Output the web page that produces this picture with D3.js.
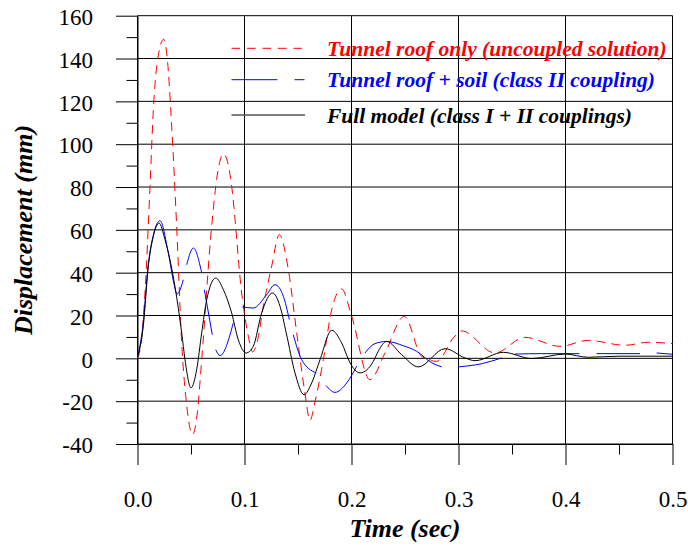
<!DOCTYPE html>
<html>
<head>
<meta charset="utf-8">
<script src="https://d3js.org/d3.v7.min.js"></script>
<style>
  body { margin: 0; background: #fff; }
  svg { display: block; }
  .tick text { font-family: "Liberation Serif", "Times New Roman", serif; }
</style>
</head>
<body>
<svg id="chart" width="688" height="546"></svg>
<script>
// ---- data: [time (s), displacement (mm)] ----
const redSeries = [
  [0, 0], [0.004, 10], [0.007, 30.5], [0.0117, 80.3], [0.0148, 116], [0.02, 143],
  [0.0245, 149], [0.028, 139], [0.032, 108], [0.0366, 61.6], [0.0413, 7.2],
  [0.046, -22], [0.0515, -35.6], [0.056, -25], [0.06, -0.6], [0.0693, 61.6],
  [0.075, 87], [0.0802, 95.4], [0.085, 90], [0.088, 80.3], [0.0974, 30.5],
  [0.1036, 10.3], [0.1075, 3], [0.112, 8], [0.1176, 24.3], [0.1254, 43],
  [0.1325, 57.8], [0.141, 41.4], [0.1488, 11.9], [0.1565, -16.2], [0.1612, -29],
  [0.166, -20], [0.1737, -0.6], [0.1815, 22.7], [0.1908, 32.4], [0.2, 20],
  [0.2173, -10], [0.2313, 2.5], [0.2494, 19.6], [0.2656, 0.9], [0.2796, -1.4],
  [0.296, 10], [0.303, 12.8], [0.334, 2.5], [0.3621, 9.8], [0.3949, 5.6],
  [0.4213, 8.4], [0.4556, 6.1], [0.4774, 7.5], [0.5, 6.9]
];

const blueSeries = [
  [0, 0.5], [0.005, 15], [0.0101, 44], [0.015, 58], [0.021, 64.3], [0.0288, 49.2],
  [0.034, 35], [0.037, 30], [0.0428, 36.7], [0.046, 43.7], [0.0522, 51.5],
  [0.06, 39.9], [0.0625, 32], [0.0699, 11], [0.0731, 4], [0.0771, 1.3],
  [0.0895, 16.5], [0.098, 24], [0.1082, 23.5], [0.1207, 29.7], [0.1285, 34.4],
  [0.1363, 29], [0.1419, 18.1], [0.1456, 11], [0.1534, -0.6], [0.1668, -6.8],
  [0.1762, -12.7], [0.1846, -15.9], [0.1955, -11.5], [0.2049, -3.7], [0.2126, 2.5],
  [0.222, 6.9], [0.2329, 7.9], [0.2484, 5.9], [0.2609, 3.3], [0.275, -2.1],
  [0.2843, -4], [0.2998, -4], [0.3217, -2.5], [0.3404, 0.2], [0.3528, 2],
  [0.3777, 2.2], [0.413, 2.2], [0.4291, 2.2], [0.4696, 2.2], [0.4852, 2.5], [0.5, 1.9]
];
// the blue line breaks right after these times
const blueBreaks = [0.0428, 0.06, 0.0699, 0.0895, 0.1419, 0.1668, 0.2049, 0.2843, 0.3404, 0.413, 0.4696];

const blackSeries = [
  [0, 0.5], [0.0054, 15], [0.0101, 43], [0.0148, 57], [0.0201, 63.2], [0.0257, 55.4],
  [0.035, 33.6], [0.0413, 11.9], [0.0444, -0.6], [0.05, -13.8], [0.0553, -5.3],
  [0.06, 11.9], [0.0647, 27.4], [0.0731, 37.5], [0.0802, 32.1], [0.088, 21.2],
  [0.0942, 8.7], [0.1015, 2.5], [0.1082, 5.6], [0.116, 21.2], [0.1263, 30.5],
  [0.1332, 24.3], [0.139, 11.9], [0.1472, -6.8], [0.1556, -17], [0.1628, -11.5],
  [0.1706, -0.6], [0.1815, 13.1], [0.1908, 7.2], [0.1986, -2.1], [0.208, -6.8],
  [0.2204, -1.4], [0.225, 3.3], [0.2329, 7.9], [0.2469, 1.7], [0.2624, -4],
  [0.2874, 4.5], [0.306, 0.2], [0.3154, -1.1], [0.3419, 2.8], [0.3684, -0.1],
  [0.3995, 2], [0.4213, 0.5], [0.45, 1], [0.5, 1]
];

const xTicks = [0, 0.1, 0.2, 0.3, 0.4, 0.5];
const xMinorTicks = [0.05, 0.15, 0.25, 0.35, 0.45];
const yTicks = [-40, -20, 0, 20, 40, 60, 80, 100, 120, 140, 160];
const yMinorTicks = [-30, -10, 10, 30, 50, 70, 90, 110, 130, 150];

const legendLabels = [
  "Tunnel roof only (uncoupled solution)",
  "Tunnel roof + soil (class II coupling)",
  "Full model (class I + II couplings)"
];
const legendY = [48.3, 79.7, 115];

const svg = d3.select("#chart");

const x = d3.scaleLinear().domain([0, 0.5]).range([137.5, 672.5]);
const y = d3.scaleLinear().domain([-40, 160]).range([444, 15.7]);

const serif = "Liberation Serif, Times New Roman, serif";

// grid
const grid = svg.append("g").attr("stroke", "#000").attr("stroke-width", 1);
grid.selectAll("line.h").data(yTicks).join("line")
  .attr("class", "h")
  .attr("x1", x(0)).attr("x2", x(0.5))
  .attr("y1", d => y(d)).attr("y2", d => y(d));
grid.selectAll("line.v").data(xTicks).join("line")
  .attr("class", "v")
  .attr("x1", d => x(d)).attr("x2", d => x(d))
  .attr("y1", y(160)).attr("y2", y(-40));

// y axis (plain hyphen for negatives, as in the original)
const yAxis = svg.append("g")
  .attr("transform", `translate(${x(0)},0)`)
  .call(d3.axisLeft(y).tickValues(yTicks).tickFormat(d => String(d))
    .tickSizeInner(21.5).tickSizeOuter(0).tickPadding(23));
svg.append("g")
  .attr("transform", `translate(${x(0)},0)`)
  .call(d3.axisLeft(y).tickValues(yMinorTicks).tickSize(11).tickFormat(""))
  .call(g => g.select(".domain").remove());

// x axis
const xAxis = svg.append("g")
  .attr("transform", `translate(0,${y(-40)})`)
  .call(d3.axisBottom(x).tickValues(xTicks).tickFormat(d3.format(".1f"))
    .tickSizeInner(21).tickSizeOuter(0).tickPadding(26));
svg.append("g")
  .attr("transform", `translate(0,${y(-40)})`)
  .call(d3.axisBottom(x).tickValues(xMinorTicks).tickSize(10.5).tickFormat(""))
  .call(g => g.select(".domain").remove());

svg.selectAll("g[font-family]").attr("font-family", serif).attr("font-size", 23);
svg.selectAll(".tick line, .domain").attr("stroke", "#000").attr("stroke-width", 1);
svg.selectAll(".tick text").attr("fill", "#000");
yAxis.selectAll(".tick text").attr("dy", "0.38em");

// axis titles
svg.append("text")
  .attr("x", 405).attr("y", 537)
  .attr("text-anchor", "middle")
  .attr("font-family", serif).attr("font-size", 26)
  .attr("font-weight", "bold").attr("font-style", "italic")
  .text("Time (sec)");

svg.append("text")
  .attr("transform", "translate(32,230) rotate(-90)")
  .attr("text-anchor", "middle")
  .attr("font-family", serif).attr("font-size", 26)
  .attr("font-weight", "bold").attr("font-style", "italic")
  .text("Displacement (mm)");

// curves
const line = d3.line()
  .x(d => x(d[0]))
  .y(d => y(d[1]))
  .curve(d3.curveMonotoneX);

svg.append("path")
  .attr("d", line(redSeries))
  .attr("fill", "none").attr("stroke", "#ff0000").attr("stroke-width", 1)
  .attr("stroke-dasharray", "9,6");

// split the blue series where the line is interrupted
const blueParts = [[]];
blueSeries.forEach(p => {
  blueParts[blueParts.length - 1].push(p);
  if (blueBreaks.includes(p[0])) blueParts.push([]);
});
svg.append("g").selectAll("path").data(blueParts).join("path")
  .attr("d", d => line(d))
  .attr("fill", "none").attr("stroke", "#0000ff").attr("stroke-width", 1);

svg.append("path")
  .attr("d", line(blackSeries))
  .attr("fill", "none").attr("stroke", "#000").attr("stroke-width", 1);

// legend
const legendStyles = [
  { color: "#ff0000", dash: "8.5,7" },
  { color: "#0000ff", dash: "46,17,10,200" },
  { color: "#555", dash: null }
];
const legend = svg.append("g");
legendLabels.forEach((label, i) => {
  legend.append("line")
    .attr("x1", 231.5).attr("x2", 305)
    .attr("y1", legendY[i]).attr("y2", legendY[i])
    .attr("stroke", legendStyles[i].color).attr("stroke-width", i == 2 ? 1.5 : 1)
    .attr("stroke-dasharray", legendStyles[i].dash);
  legend.append("text")
    .attr("x", 327).attr("y", legendY[i] + 7.5)
    .attr("font-family", serif).attr("font-size", 21.5)
    .attr("font-weight", "bold").attr("font-style", "italic")
    .attr("fill", i == 2 ? "#000" : legendStyles[i].color)
    .text(label);
});
</script>
</body>
</html>
